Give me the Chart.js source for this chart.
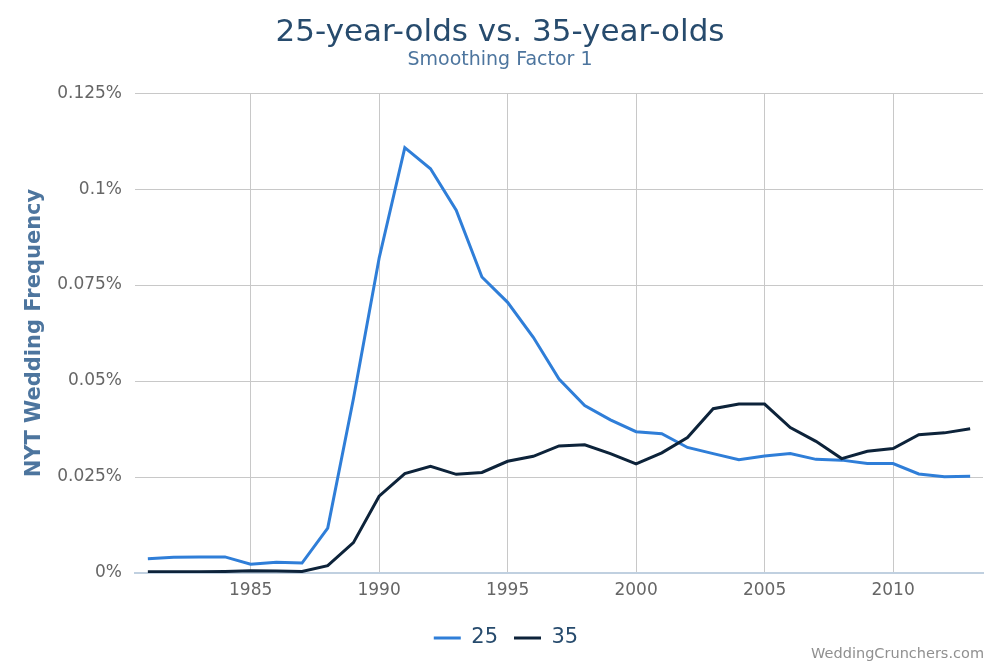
<!DOCTYPE html>
<html>
<head>
<meta charset="utf-8">
<script src="https://cdn.jsdelivr.net/npm/chart.js@4/dist/chart.umd.min.js"></script>
<style>
html,body{margin:0;padding:0;background:#fff;}
#c{display:block;}
</style>
</head>
<body>
<canvas id="c" width="1000" height="667"></canvas>
<script>
const years = [1981,1982,1983,1984,1985,1986,1987,1988,1989,1990,1991,1992,1993,1994,1995,1996,1997,1998,1999,2000,2001,2002,2003,2004,2005,2006,2007,2008,2009,2010,2011,2012,2013];
const age25 = [0.0037,0.0041,0.0042,0.0042,0.0023,0.0028,0.0026,0.0117,0.0454,0.0820,0.1108,0.1053,0.0945,0.0771,0.0705,0.0614,0.0505,0.0436,0.0399,0.0368,0.0363,0.0327,0.0311,0.0295,0.0305,0.0311,0.0296,0.0294,0.0285,0.0285,0.0258,0.0251,0.0252];
const age35 = [0.0003,0.0003,0.0003,0.0004,0.0006,0.0005,0.0004,0.0019,0.0079,0.0200,0.0259,0.0278,0.0257,0.0262,0.0291,0.0304,0.0331,0.0334,0.0311,0.0284,0.0313,0.0353,0.0428,0.0440,0.0440,0.0379,0.0343,0.0298,0.0317,0.0324,0.0360,0.0365,0.0376];
const seriesNames = ['25','35'];
const xTicks = [1985,1990,1995,2000,2005,2010];
const yTicks = [0,0.025,0.05,0.075,0.1,0.125];
const yTickLabels = ['0%','0.025%','0.05%','0.075%','0.1%','0.125%'];

Chart.defaults.font.family = "'DejaVu Sans', sans-serif";

const toPts = arr => years.map((y,i)=>({x:y, y:arr[i]}));

const credits = {
  id:'credits',
  afterLayout(chart){
    if (chart.legend){ chart.legend.left += 6; chart.legend.right += 6; }
  },
  afterDraw(chart){
    const ctx = chart.ctx;
    ctx.save();
    ctx.font = "14.5px 'DejaVu Sans', sans-serif";
    ctx.fillStyle = '#909090';
    ctx.textAlign = 'right';
    ctx.textBaseline = 'alphabetic';
    ctx.fillText('WeddingCrunchers.com', 984, 658);
    ctx.restore();
  }
};

new Chart(document.getElementById('c'), {
  type:'line',
  data:{
    datasets:[
      {label:seriesNames[0], data:toPts(age25), borderColor:'#2f7ed8', backgroundColor:'#2f7ed8', borderWidth:3, pointRadius:0, tension:0, order:1},
      {label:seriesNames[1], data:toPts(age35), borderColor:'#0d233a', backgroundColor:'#0d233a', borderWidth:3, pointRadius:0, tension:0, order:0}
    ]
  },
  options:{
    responsive:false,
    animation:false,
    layout:{padding:{left:17,right:17,top:0,bottom:8.5}},
    plugins:{
      title:{display:true, text:'25-year-olds vs. 35-year-olds', color:'#274b6d', font:{size:31, weight:'normal', lineHeight:1.1}, padding:{top:16,bottom:0}},
      subtitle:{display:true, text:'Smoothing Factor 1', color:'#4d759e', font:{size:19, weight:'normal', lineHeight:1.0}, padding:{top:0,bottom:24}},
      legend:{position:'bottom', labels:{color:'#274b6d', font:{size:21}, boxWidth:27, boxHeight:3, padding:16, sort:(a,b)=>a.datasetIndex-b.datasetIndex,
        generateLabels(chart){
          return chart.data.datasets.map((d,i)=>({text:d.label, fillStyle:d.borderColor, strokeStyle:d.borderColor, lineWidth:0, datasetIndex:i, hidden:false, fontColor:'#274b6d'}));
        }}},
      tooltip:{enabled:false}
    },
    scales:{
      x:{
        type:'linear', min:1980.5, max:2013.5,
        afterBuildTicks(s){ s.ticks = xTicks.map(v=>({value:v})); },
        afterFit(s){ s.height = 38.5; },
        ticks:{color:'#666666', font:{size:17}, padding:7, maxRotation:0, callback:v=>String(v)},
        grid:{color:'#c8c8c8', lineWidth:1, drawTicks:false},
        border:{display:true, color:'#c0d0e0', width:2}
      },
      y:{
        min:0, max:0.125,
        afterBuildTicks(s){ s.ticks = yTicks.map(v=>({value:v})); },
        afterFit(s){ s.width = 118; },
        ticks:{color:'#666666', font:{size:17}, padding:13, callback:(v)=>yTickLabels[yTicks.indexOf(v)] ?? ''},
        grid:{color:'#c8c8c8', lineWidth:1, drawTicks:false},
        border:{display:false},
        title:{display:true, text:'NYT Wedding Frequency', color:'#4d759e', font:{size:21, weight:'bold'}, padding:{top:5,bottom:0}}
      }
    }
  },
  plugins:[credits]
});
</script>
</body>
</html>
